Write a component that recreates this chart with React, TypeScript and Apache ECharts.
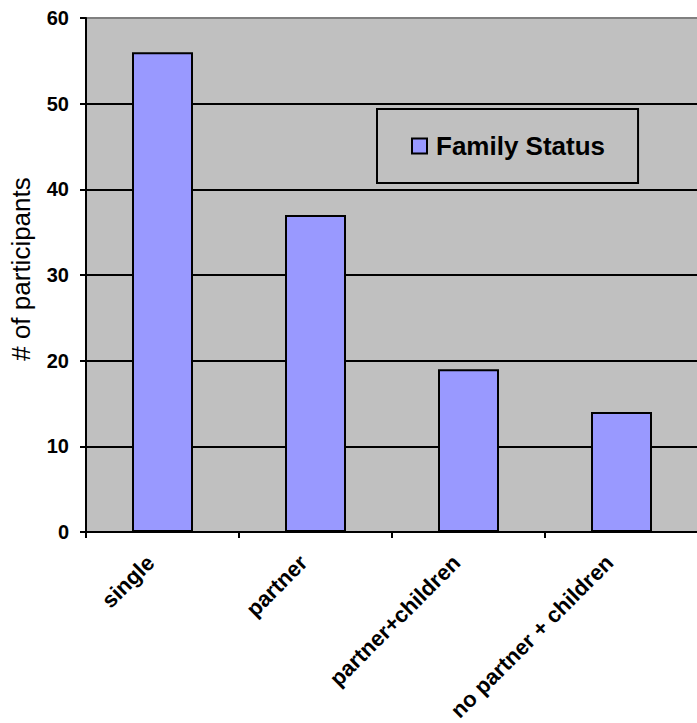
import React, { useEffect, useRef } from "react";
import * as echarts from "echarts";

const categories = ["single", "partner", "partner+children", "no partner + children"];
const values = [56, 37, 19, 14];
const seriesName = "Family Status";
const yAxisTitle = "# of participants";

export default function App() {
  const ref = useRef<HTMLDivElement>(null);
  useEffect(() => {
    if (!ref.current) return;
    const chart = echarts.init(ref.current, null, { renderer: "svg" });
    const font = "'Liberation Sans', Arial, Helvetica, sans-serif";
    chart.setOption({
      animation: false,
      textStyle: { fontFamily: font },
      grid: {
        left: 86,
        top: 18,
        right: -1,
        bottom: 191,
        containLabel: false,
        outerBoundsMode: "none",
        show: true,
        backgroundColor: "#C0C0C0",
        borderWidth: 0,
      },
      legend: {
        left: 377,
        top: 109,
        orient: "horizontal",
        padding: [24, 33, 24, 34],
        backgroundColor: "#C0C0C0",
        borderColor: "#000",
        borderWidth: 2,
        borderRadius: 0,
        itemWidth: 15,
        itemHeight: 15,
        itemGap: 5,
        icon: "rect",
        textStyle: {
          fontFamily: font,
          fontSize: 26,
          fontWeight: "bold",
          color: "#000",
          padding: [0, 0, 0, 4],
        },
        data: [seriesName],
      },
      xAxis: {
        type: "category",
        data: categories,
        boundaryGap: true,
        axisLine: { show: true, lineStyle: { color: "#000", width: 2 } },
        axisTick: { show: true, length: 6, lineStyle: { color: "#000", width: 2 }, alignWithLabel: false },
        axisLabel: {
          rotate: 45,
          interval: 0,
          margin: 15,
          padding: [0, 17, 0, 0],
          fontFamily: font,
          fontSize: 22,
          fontWeight: "bold",
          color: "#000",
        },
        splitLine: { show: false },
      },
      yAxis: {
        type: "value",
        min: 0,
        max: 60,
        interval: 10,
        name: yAxisTitle,
        nameLocation: "middle",
        nameRotate: 90,
        nameGap: 52,
        nameTextStyle: {
          fontFamily: font,
          fontSize: 26,
          color: "#000",
          fontWeight: "normal",
          padding: [0, 0, 0, 12],
        },
        axisLine: { show: true, lineStyle: { color: "#000", width: 2 } },
        axisTick: { show: true, length: 6, lineStyle: { color: "#000", width: 2 } },
        axisLabel: {
          margin: 17,
          fontFamily: font,
          fontSize: 20,
          fontWeight: "bold",
          color: "#000",
        },
        splitLine: {
          show: true,
          lineStyle: {
            color: ["#000", "#000", "#000", "#000", "#000", "#000", "#808080"],
            width: 2,
          },
        },
      },
      series: [
        {
          name: seriesName,
          type: "bar",
          data: values,
          barWidth: 61,
          itemStyle: { color: "#9999FF", borderColor: "#000", borderWidth: 2 },
        },
      ],
    });
    return () => chart.dispose();
  }, []);
  return (
    <div
      ref={ref}
      style={{ position: "absolute", left: 0, top: 0, width: 697, height: 723 }}
    />
  );
}
